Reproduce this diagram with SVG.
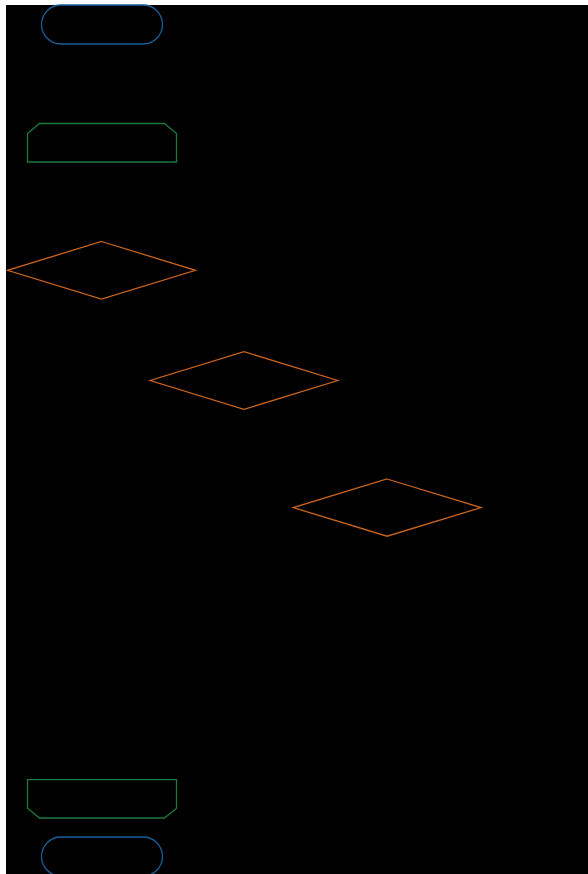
<svg xmlns="http://www.w3.org/2000/svg" width="588" height="874" viewBox="0 0 588 874">
<style>
.term{fill:none;stroke:#1a5f96;stroke-width:1.3}
.loop{fill:none;stroke:#1a7a3c;stroke-width:1.3}
.dec{fill:none;stroke:#c8641e;stroke-width:1.3}
</style>
<rect x="0" y="0" width="588" height="874" fill="#ffffff"/>
<rect x="6" y="5" width="582" height="869" fill="#000000"/>
<g id="connectors"></g>
<g id="start"><rect class="term" x="41.5" y="5" width="121" height="39" rx="19.5" ry="19.5"/></g>
<g id="loop-start"><path class="loop" d="M39.5,123.5 L164.5,123.5 L176.5,133.5 L176.5,162 L27.5,162 L27.5,133.5 Z"/></g>
<g id="decision1"><path class="dec" d="M101.5,241.5 L195.5,270.3 L101.5,299 L7.5,270.3 Z"/></g>
<g id="decision2"><path class="dec" d="M244,351.7 L337.7,380.5 L244,409.3 L150.2,380.5 Z"/></g>
<g id="decision3"><path class="dec" d="M387,479 L481,507.6 L387,536.2 L293.3,507.6 Z"/></g>
<g id="loop-end"><path class="loop" d="M27.5,779.7 L176.5,779.7 L176.5,808.3 L164.5,818 L39.5,818 L27.5,808.3 Z"/></g>
<g id="end"><rect class="term" x="41.5" y="837" width="121" height="39" rx="19.5" ry="19.5"/></g>
</svg>
